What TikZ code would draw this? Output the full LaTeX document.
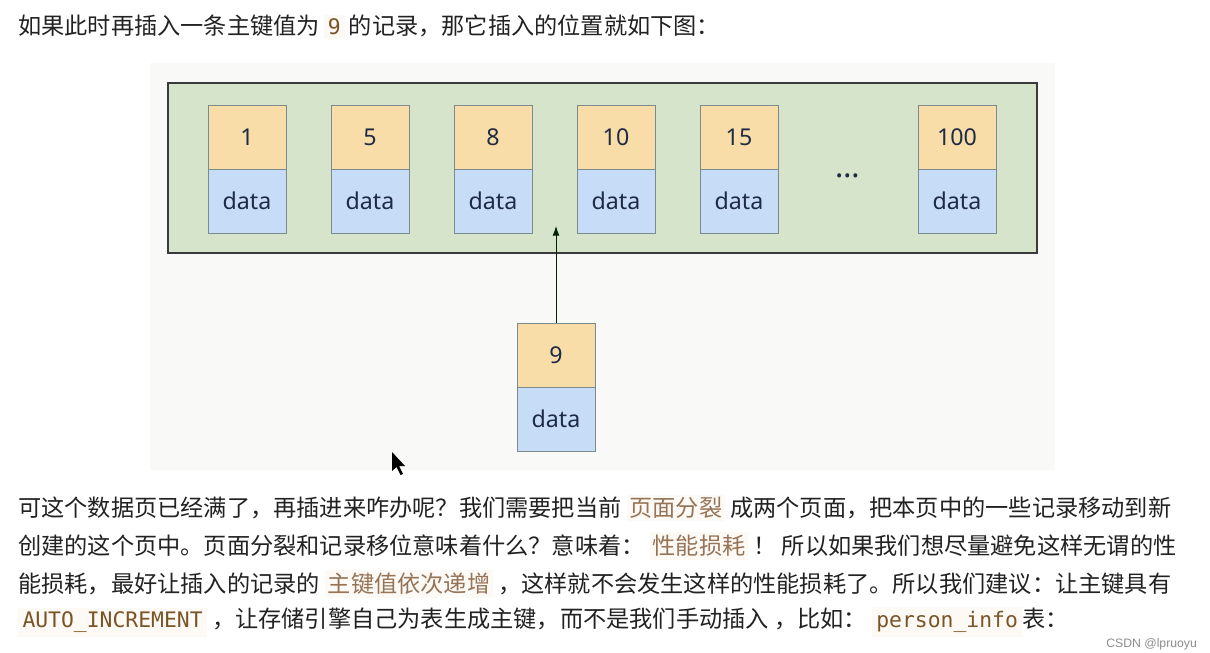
\documentclass[tikz,border=0pt]{standalone}
\usepackage{fontspec}
\setmainfont{Noto Sans}
\setsansfont{Noto Sans}
\setmonofont{DejaVu Sans Mono}
\newfontfamily\cjk{Noto Sans CJK SC}
\newfontfamily\wmfont{Liberation Sans}
\usetikzlibrary{positioning,arrows.meta}
\definecolor{panelbg}{HTML}{F9FAF8}
\definecolor{pagefill}{HTML}{D5E4CB}
\definecolor{pageedge}{HTML}{3A3A3A}
\definecolor{keyfill}{HTML}{F8DDA8}
\definecolor{datafill}{HTML}{C7DDF7}
\definecolor{celledge}{HTML}{7B8A8C}
\definecolor{celltext}{HTML}{1E2B45}
\definecolor{txt}{HTML}{222222}
\definecolor{hltxt}{HTML}{957458}
\definecolor{codetxt}{HTML}{7A5528}
\definecolor{hlbg}{HTML}{FDF9F4}
\newcommand\hlcn[1]{{\setlength\fboxsep{2pt}\colorbox{hlbg}{\color{hltxt}#1}}}
\newcommand\hlcode[1]{{\setlength\fboxsep{3pt}\colorbox{hlbg}{\color{codetxt}\ttfamily\fontsize{15.2}{18}\selectfont #1}}}
\begin{document}
\begin{tikzpicture}[x=0.025cm, y=-0.025cm, >=Latex,
    keycell/.style={draw=celledge, fill=keyfill, text=celltext, outer sep=0pt,
      minimum width=1.95cm, minimum height=1.6cm, font=\fontsize{16.5}{19}\selectfont},
    datacell/.style={keycell, fill=datafill},
    textline/.style={anchor=west, inner sep=0pt, text=txt,
      font=\cjk\fontsize{16.5}{20}\selectfont}]
  \useasboundingbox (0,0) rectangle (1210,652);
  \fill[white] (0,0) rectangle (1210,652);
  % figure area and the full data page
  \fill[panelbg] (150,63) rectangle (1055,470);
  \draw[pageedge, thick, fill=pagefill] (168,83) rectangle (1037,253);
  % records: key on top, data below (box centres at x, key row at y=137)
  \foreach \i/\x/\k in {1/247/1, 2/370/5, 3/493/8, 4/616/10, 5/739/15, 6/957/100} {
    \node[keycell] (k\i) at (\x,137) {\k};
    \node[datacell, below=0pt of k\i] (d\i) {data};
  }
  \node[text=celltext, font=\fontsize{22}{22}\selectfont\bfseries] (dots) at (848,176) {\dots};
  % the new record and where it goes
  \node[keycell] (k9) at (556,355) {9};
  \node[datacell, below=0pt of k9] (d9) {data};
  \coordinate (slot) at (556,226);
  \draw[-{Latex[length=2.4mm,width=1.7mm]}, black!85!green, semithick] (k9.north) -- (slot);
  % mouse pointer
  \fill[black] (392,452) -- (392,471) -- (396.5,467) -- (400.5,475) -- (403,474) -- (399,466) -- (405,466) -- cycle;
  % text above and below
  \node[textline] (line0) at (18,27) {如果此时再插入一条主键值为\,\hlcode{9}\,的记录，那它插入的位置就如下图：};
  \node[textline] (line1) at (18,508) {可这个数据页已经满了，再插进来咋办呢？我们需要把当前 \hlcn{页面分裂} 成两个页面，把本页中的一些记录移动到新};
  \node[textline] (line2) at (18,546) {创建的这个页中。页面分裂和记录移位意味着什么？意味着： \hlcn{性能损耗} ！ 所以如果我们想尽量避免这样无谓的性};
  \node[textline] (line3) at (18,584) {能损耗，最好让插入的记录的 \hlcn{主键值依次递增} ，这样就不会发生这样的性能损耗了。所以我们建议：让主键具有};
  \node[textline] (line4) at (18,622) {\hlcode{AUTO\_INCREMENT} ，让存储引擎自己为表生成主键，而不是我们手动插入 ，比如： \hlcode{person\_info}表：};
  \node[anchor=west, inner sep=0pt, text=black!45, font=\wmfont\fontsize{8.7}{10}\selectfont] (mark) at (1106,644) {CSDN @lpruoyu};
\end{tikzpicture}
\end{document}
